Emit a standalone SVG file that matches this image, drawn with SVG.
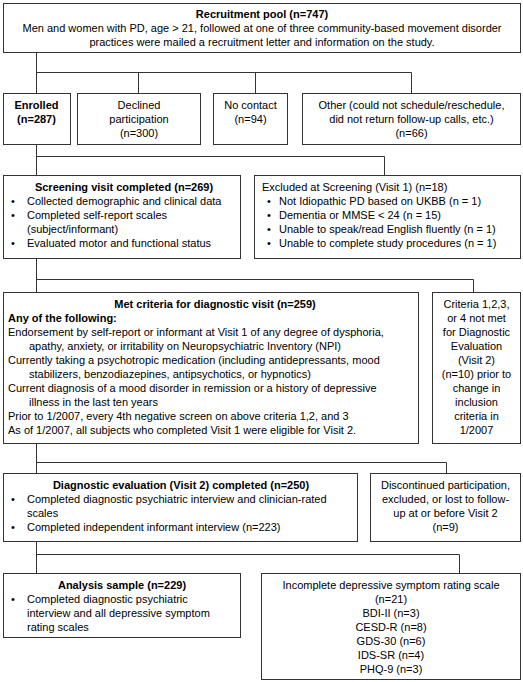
<svg xmlns="http://www.w3.org/2000/svg" width="523" height="682" viewBox="0 0 523 682">
<style>
rect{fill:#fff;stroke:#333;stroke-width:1}
.c line,.c path{stroke:#333;stroke-width:1;fill:none}
text{font-family:"Liberation Sans",Arial,sans-serif;font-size:11px;fill:#000}
.b{font-weight:bold}
.m{text-anchor:middle}
</style>
<rect x="0" y="0" width="523" height="682" style="fill:#fff;stroke:none"/>
<g class="c" id="connectors">
<path d="M36.5 52.5V93.5M36.5 72.5H411.5M138.5 72.5V93.5M255.5 72.5V93.5M411.5 72.5V93.5"/>
<path d="M36.5 144.5V175.5M36.5 156.5H384.5V175.5"/>
<path d="M36.5 258.5V292.5M36.5 279.5H473.5V292.5"/>
<path d="M36.5 443.5V473.5M36.5 462.5H446.5V473.5"/>
<path d="M36.5 541.5V573.5M36.5 554.5H459.5V573.5"/>
</g>
<g id="recruitment">
<rect x="3.5" y="3.5" width="517" height="49"/>
<text class="b m" x="262" y="18">Recruitment pool (n=747)</text>
<text class="m" x="262" y="32">Men and women with PD, age &gt; 21, followed at one of three community-based movement disorder</text>
<text class="m" x="262" y="46">practices were mailed a recruitment letter and information on the study.</text>
</g>
<g id="enrolled">
<rect x="3.5" y="93.5" width="67" height="51"/>
<text class="b m" x="36.5" y="109">Enrolled</text>
<text class="b m" x="36.5" y="123">(n=287)</text>
</g>
<g id="declined">
<rect x="77.5" y="93.5" width="123" height="51"/>
<text class="m" x="139" y="109">Declined</text>
<text class="m" x="139" y="123">participation</text>
<text class="m" x="139" y="137">(n=300)</text>
</g>
<g id="nocontact">
<rect x="213.5" y="93.5" width="74" height="51"/>
<text class="m" x="250.5" y="109">No contact</text>
<text class="m" x="250.5" y="123">(n=94)</text>
</g>
<g id="other">
<rect x="302.5" y="93.5" width="218" height="51"/>
<text class="m" x="411.5" y="109">Other (could not schedule/reschedule,</text>
<text class="m" x="411.5" y="123">did not return follow-up calls, etc.)</text>
<text class="m" x="411.5" y="137">(n=66)</text>
</g>
<g id="screening">
<rect x="3.5" y="175.5" width="237" height="83"/>
<text class="b m" x="124" y="191">Screening visit completed (n=269)</text>
<text x="11" y="205">•</text><text x="27" y="205">Collected demographic and clinical data</text>
<text x="11" y="219">•</text><text x="27" y="219">Completed self-report scales</text>
<text x="27" y="233">(subject/informant)</text>
<text x="11" y="247">•</text><text x="27" y="247">Evaluated motor and functional status</text>
</g>
<g id="excluded">
<rect x="254.5" y="175.5" width="266" height="83"/>
<text x="262" y="191">Excluded at Screening (Visit 1) (n=18)</text>
<text x="267" y="205">•</text><text x="279" y="205">Not Idiopathic PD based on UKBB (n = 1)</text>
<text x="267" y="219">•</text><text x="279" y="219">Dementia or MMSE &lt; 24 (n = 15)</text>
<text x="267" y="233">•</text><text x="279" y="233">Unable to speak/read English fluently (n = 1)</text>
<text x="267" y="247">•</text><text x="279" y="247">Unable to complete study procedures (n = 1)</text>
</g>
<g id="metcriteria">
<rect x="3.5" y="292.5" width="415" height="151"/>
<text class="b m" x="215" y="308">Met criteria for diagnostic visit (n=259)</text>
<text class="b" x="8" y="322">Any of the following:</text>
<text x="8" y="336">Endorsement by self-report or informant at Visit 1 of any degree of dysphoria,</text>
<text x="29" y="350">apathy, anxiety, or irritability on Neuropsychiatric Inventory (NPI)</text>
<text x="8" y="364">Currently taking a psychotropic medication (including antidepressants, mood</text>
<text x="29" y="378">stabilizers, benzodiazepines, antipsychotics, or hypnotics)</text>
<text x="8" y="392">Current diagnosis of a mood disorder in remission or a history of depressive</text>
<text x="29" y="406">illness in the last ten years</text>
<text x="8" y="420">Prior to 1/2007, every 4th negative screen on above criteria 1,2, and 3</text>
<text x="8" y="434">As of 1/2007, all subjects who completed Visit 1 were eligible for Visit 2.</text>
</g>
<g id="criterianotmet">
<rect x="432.5" y="292.5" width="88" height="151"/>
<text class="m" x="476.5" y="308">Criteria 1,2,3,</text>
<text class="m" x="476.5" y="322">or 4 not met</text>
<text class="m" x="476.5" y="336">for Diagnostic</text>
<text class="m" x="476.5" y="350">Evaluation</text>
<text class="m" x="476.5" y="364">(Visit 2)</text>
<text class="m" x="476.5" y="378">(n=10) prior to</text>
<text class="m" x="476.5" y="392">change in</text>
<text class="m" x="476.5" y="406">inclusion</text>
<text class="m" x="476.5" y="420">criteria in</text>
<text class="m" x="476.5" y="434">1/2007</text>
</g>
<g id="diagnostic">
<rect x="3.5" y="473.5" width="354" height="68"/>
<text class="b m" x="181" y="489">Diagnostic evaluation (Visit 2) completed (n=250)</text>
<text x="11" y="503">•</text><text x="27" y="503">Completed diagnostic psychiatric interview and clinician-rated</text>
<text x="27" y="517">scales</text>
<text x="11" y="531">•</text><text x="27" y="531">Completed independent informant interview (n=223)</text>
</g>
<g id="discontinued">
<rect x="370.5" y="473.5" width="150" height="68"/>
<text class="m" x="445.5" y="489">Discontinued participation,</text>
<text class="m" x="445.5" y="503">excluded, or lost to follow-</text>
<text class="m" x="445.5" y="517">up at or before Visit 2</text>
<text class="m" x="445.5" y="531">(n=9)</text>
</g>
<g id="analysis">
<rect x="3.5" y="573.5" width="237" height="64"/>
<text class="b m" x="122" y="589">Analysis sample (n=229)</text>
<text x="11" y="603">•</text><text x="27" y="603">Completed diagnostic psychiatric</text>
<text x="27" y="617">interview and all depressive symptom</text>
<text x="27" y="631">rating scales</text>
</g>
<g id="incomplete">
<rect x="261.5" y="573.5" width="259" height="106"/>
<text class="m" x="391" y="589">Incomplete depressive symptom rating scale</text>
<text class="m" x="391" y="603">(n=21)</text>
<text class="m" x="391" y="617">BDI-II (n=3)</text>
<text class="m" x="391" y="631">CESD-R (n=8)</text>
<text class="m" x="391" y="645">GDS-30 (n=6)</text>
<text class="m" x="391" y="659">IDS-SR (n=4)</text>
<text class="m" x="391" y="673">PHQ-9 (n=3)</text>
</g>
</svg>
